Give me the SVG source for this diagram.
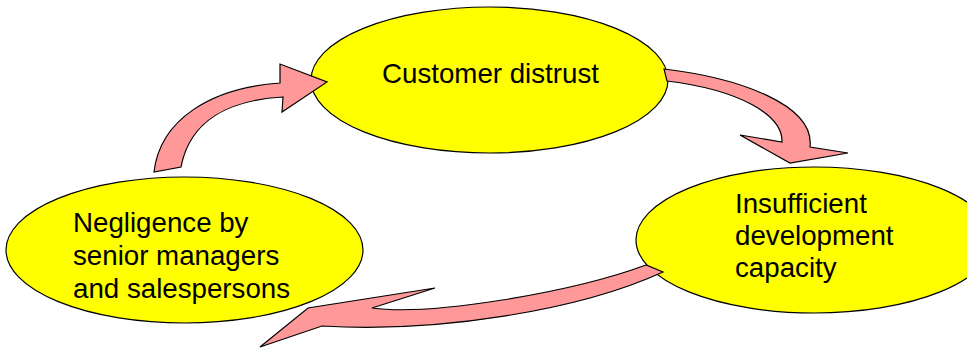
<svg xmlns="http://www.w3.org/2000/svg" width="967" height="349" viewBox="0 0 967 349">
  <style>
    .node ellipse { fill: #FFFF00; stroke: #000000; stroke-width: 1.2; }
    .node text { font-family: "Liberation Sans", Arial, sans-serif; font-size: 27.7px; fill: #000000; }
    .arrow { fill: #FF9999; stroke: #000000; stroke-width: 1.2; stroke-linejoin: miter; }
  </style>
  <rect width="967" height="349" fill="#FFFFFF"/>

  <g id="node-distrust" class="node">
    <ellipse cx="489.5" cy="80" rx="178.5" ry="73"/>
    <text x="382" y="83">Customer distrust</text>
  </g>

  <g id="node-negligence" class="node">
    <ellipse cx="184.5" cy="250" rx="178.5" ry="73"/>
    <text x="73" y="232">Negligence by</text>
    <text x="73" y="265">senior managers</text>
    <text x="73" y="298">and salespersons</text>
  </g>

  <g id="node-capacity" class="node">
    <ellipse cx="814.5" cy="240" rx="178.5" ry="73"/>
    <text x="735" y="213">Insufficient</text>
    <text x="735" y="245">development</text>
    <text x="735" y="277">capacity</text>
  </g>

  <g id="connectors">
    <!-- negligence -> distrust -->
    <path class="arrow" d="M154,172 C160,120 210,88 280,83 L280,64 L327,82 L282,112 L283,97 C230,100 190,120 181,167 Z"/>
    <!-- distrust -> insufficient capacity -->
    <path class="arrow" d="M664,69 C740,78 815,105 810,147 L848,153 L790,163 L740,135 L782,142 C783,115 740,90 667,81 Z"/>
    <!-- insufficient capacity -> negligence -->
    <path class="arrow" d="M663,272 C580,310 440,333 322,326 L260,347 L308,308 L435,288 L372,308 C430,316 570,293 646,265 Z"/>
  </g>
</svg>
